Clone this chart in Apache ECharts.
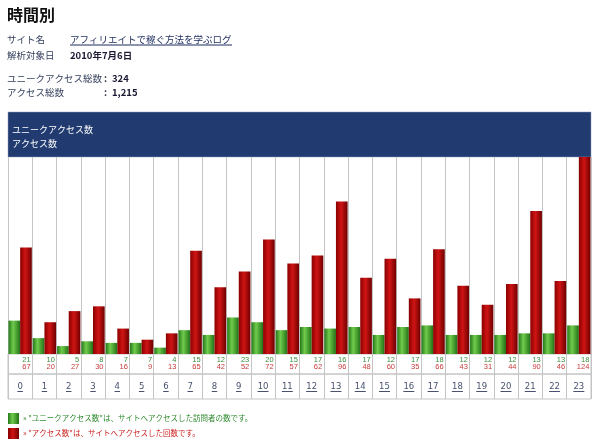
<!DOCTYPE html>
<html>
<head>
<meta charset="utf-8">
<script src="https://cdn.jsdelivr.net/npm/echarts@6/dist/echarts.min.js"></script>
<style>
html, body { margin: 0; padding: 0; background: #fff; }
#main { width: 600px; height: 446px; }
</style>
</head>
<body>
<div id="main"></div>
<script>
var hours = ['0','1','2','3','4','5','6','7','8','9','10','11','12','13','14','15','16','17','18','19','20','21','22','23'];
var uniqueAccess = [21,10,5,8,7,7,4,15,12,23,20,15,17,16,17,12,17,18,12,12,12,13,13,18];
var totalAccess = [67,20,27,30,16,9,13,65,42,52,72,57,62,96,48,60,35,66,43,31,44,90,46,124];

var FONT = '"Noto Sans CJK JP", sans-serif';
var lineColor = '#c4c4c4';

var chart = echarts.init(document.getElementById('main'));

var greenGrad = new echarts.graphic.LinearGradient(0, 0, 1, 0, [
    {offset: 0, color: '#24781a'},
    {offset: 0.4, color: '#70cc4c'},
    {offset: 1, color: '#227216'}
]);
var redGrad = new echarts.graphic.LinearGradient(0, 0, 1, 0, [
    {offset: 0, color: '#8a0000'},
    {offset: 0.45, color: '#d01414'},
    {offset: 1, color: '#6e0000'}
]);

function infoText(text, x, y, bold, color){
    return {
        type: 'text', x: x, y: y,
        style: {
            text: text, fill: color || '#34405c',
            font: (bold ? 'bold ' : '') + '9.5px ' + FONT,
            verticalAlign: 'middle'
        }
    };
}

var option = {
    animation: false,
    textStyle: { fontFamily: FONT },
    grid: [
        {left: 8, right: 9, top: 157, bottom: 92},
        {left: 8, right: 9, top: 354, height: 20, show: true, borderColor: lineColor, borderWidth: 1},
        {left: 8, right: 9, top: 374, height: 25, show: true, borderColor: lineColor, borderWidth: 1}
    ],
    xAxis: [
        {
            type: 'category', gridIndex: 0, data: hours,
            axisLine: {show: false}, axisTick: {show: false},
            splitLine: {show: true, interval: 0, lineStyle: {color: lineColor}},
            axisLabel: {
                interval: 0, margin: 2,
                formatter: function(v, i){
                    return '{g|' + uniqueAccess[i] + '}\n{r|' + totalAccess[i] + '}';
                },
                rich: {
                    g: {width: 21, align: 'right', fontSize: 7.5, lineHeight: 7.5, color: '#3d8d3d', fontFamily: '"Liberation Sans", sans-serif'},
                    r: {width: 21, align: 'right', fontSize: 7.5, lineHeight: 7.5, color: '#c83a3a', fontFamily: '"Liberation Sans", sans-serif'}
                }
            }
        },
        {
            type: 'category', gridIndex: 1, data: hours,
            axisLine: {show: false}, axisTick: {show: false},
            splitLine: {show: true, interval: 0, lineStyle: {color: lineColor}},
            axisLabel: {
                interval: 0, margin: 8,
                formatter: function(v){
                    return '{n|' + v + '}\n{u' + v.length + '| }';
                },
                rich: {
                    n: {fontSize: 8.5, lineHeight: 9, color: '#48526e', fontFamily: '"DejaVu Sans", sans-serif'},
                    u1: {fontSize: 1, width: 5.5, height: 1, lineHeight: 1, backgroundColor: '#48526e'},
                    u2: {fontSize: 1, width: 11, height: 1, lineHeight: 1, backgroundColor: '#48526e'}
                }
            }
        },
        {
            type: 'category', gridIndex: 2, data: hours,
            axisLine: {show: false}, axisTick: {show: false}, axisLabel: {show: false},
            splitLine: {show: true, interval: 0, lineStyle: {color: lineColor}}
        }
    ],
    yAxis: [
        {type: 'value', gridIndex: 0, min: 0, max: 124, show: false, splitLine: {show: false}},
        {type: 'value', gridIndex: 1, show: false, splitLine: {show: false}},
        {type: 'value', gridIndex: 2, show: false, splitLine: {show: false}}
    ],
    series: [
        {
            name: 'ユニークアクセス数', type: 'bar', xAxisIndex: 0, yAxisIndex: 0,
            data: uniqueAccess, barGap: '0%', barCategoryGap: '4%',
            itemStyle: {color: greenGrad}
        },
        {
            name: 'アクセス数', type: 'bar', xAxisIndex: 0, yAxisIndex: 0,
            data: totalAccess, barGap: '0%', barCategoryGap: '4%',
            itemStyle: {color: redGrad}
        }
    ],
    graphic: [
        {
            type: 'text', x: 7, y: 15,
            style: {text: '時間別', fill: '#111', font: 'bold 16px ' + FONT, verticalAlign: 'middle'}
        },
        infoText('サイト名', 7, 39),
        infoText('アフィリエイトで稼ぐ方法を学ぶログ', 70, 39, false, '#1c2b5c'),
        {type: 'line', shape: {x1: 70, y1: 45, x2: 232, y2: 45}, style: {stroke: '#1c2b5c', lineWidth: 1}},
        infoText('解析対象日', 7, 55),
        infoText('2010年7月6日', 70, 55, true, '#1a1a33'),
        infoText('ユニークアクセス総数', 7, 78),
        infoText(':', 104, 78, true, '#1a1a33'),
        infoText('324', 112, 78, true, '#1a1a33'),
        infoText('アクセス総数', 7, 92),
        infoText(':', 104, 92, true, '#1a1a33'),
        infoText('1,215', 112, 92, true, '#1a1a33'),
        {
            type: 'rect', shape: {x: 8, y: 112, width: 583, height: 45},
            style: {fill: '#213b70', stroke: '#8c9ab8', lineWidth: 0.5}
        },
        {
            type: 'text', x: 12, y: 130,
            style: {text: 'ユニークアクセス数', fill: '#fff', font: '9px ' + FONT, verticalAlign: 'middle'}
        },
        {
            type: 'text', x: 12, y: 144,
            style: {text: 'アクセス数', fill: '#fff', font: '9px ' + FONT, verticalAlign: 'middle'}
        },
        {
            type: 'rect', shape: {x: 8, y: 413, width: 11, height: 11},
            style: {fill: greenGrad}
        },
        {
            type: 'text', x: 23, y: 418.5,
            style: {text: '» "ユニークアクセス数"は、サイトへアクセスした訪問者の数です。', fill: '#2e8a2e', font: '7.5px ' + FONT, verticalAlign: 'middle'}
        },
        {
            type: 'rect', shape: {x: 8, y: 428, width: 11, height: 11},
            style: {fill: redGrad}
        },
        {
            type: 'text', x: 23, y: 433.5,
            style: {text: '» "アクセス数"は、サイトへアクセスした回数です。', fill: '#cc2222', font: '7.5px ' + FONT, verticalAlign: 'middle'}
        }
    ]
};

chart.setOption(option);
</script>
</body>
</html>
